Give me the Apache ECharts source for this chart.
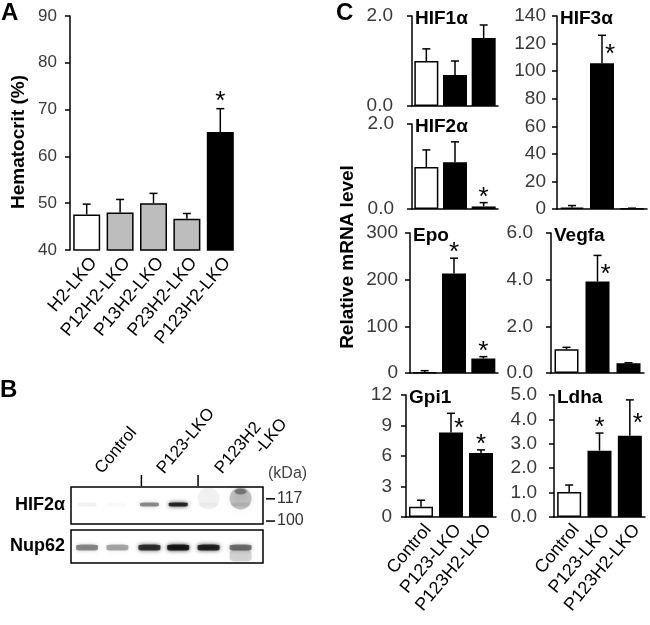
<!DOCTYPE html>
<html>
<head>
<meta charset="utf-8">
<script src="https://cdn.jsdelivr.net/npm/echarts@6/dist/echarts.min.js"></script>
<style>html,body{margin:0;padding:0;background:#fff;}#c{width:650px;height:625px;}</style>
</head>
<body>
<div id="c"></div>
<script>
// ---------- Panel A data ----------
const aCats = ['H2-LKO', 'P12H2-LKO', 'P13H2-LKO', 'P23H2-LKO', 'P123H2-LKO'];
const aVals = [47.6, 48.0, 50.0, 46.7, 65.2];
const aErrs = [2.2, 2.8, 2.1, 1.1, 5.0];
const aSig  = [0, 0, 0, 0, 1];
const aTicks = [40, 90, 10];

// ---------- Panel C data ----------
const cCats = ['Control', 'P123-LKO', 'P123H2-LKO'];
const hif1aVals = [1.00, 0.69, 1.51];
const hif1aErrs = [0.27, 0.31, 0.29];
const hif1aSig  = [0, 0, 0];
const hif2aVals = [0.99, 1.10, 0.06];
const hif2aErrs = [0.40, 0.48, 0.09];
const hif2aSig  = [0, 0, 1];
const hif3aVals = [1.0, 105.8, 0.4];
const hif3aErrs = [1.5, 20.2, 0.2];
const hif3aSig  = [0, 2, 0];
const epoVals = [1.5, 213, 31];
const epoErrs = [3.5, 33, 4];
const epoSig  = [0, 1, 1];
const vegfaVals = [1.02, 3.92, 0.42];
const vegfaErrs = [0.08, 1.12, 0.02];
const vegfaSig  = [0, 2, 0];
const gpi1Vals = [1.0, 8.3, 6.3];
const gpi1Errs = [0.65, 1.9, 0.3];
const gpi1Sig  = [0, 2, 1];
const ldhaVals = [1.02, 2.72, 3.33];
const ldhaErrs = [0.29, 0.72, 1.47];
const ldhaSig  = [0, 1, 2];

// ---------- Panel B (blot) data ----------
const blotLanes = [0.5, 1.45, 2.45, 3.35, 4.3, 5.3];
const hif2aBand  = [0.07, 0.03, 0.5, 0.95, 0.04, 0.10];
const hif2aSmear = [0, 0, 0, 0, 0.07, 0.28];
const hif2aCore  = [0, 0, 0, 0, 0, 0.45];
const nup62Band  = [0.5, 0.38, 0.88, 1.0, 0.95, 0.6];
const nup62Smear = [0, 0, 0, 0, 0, 0.2];
const blotGroups = ['Control', 'P123-LKO', 'P123H2\n-LKO'];
const blotGroupAt = [1.06, 3.0, 4.81];
const blotDividers = [2.2, 3.97];
const kdaMarks = ['117', '100'];
const kdaAt = [0.68, 0.08];

const FONT = 'Arial, "Liberation Sans", Helvetica, sans-serif';
const ROT = 50;

const panels = [
  {grid: {left: 70, top: 16, width: 167, height: 234}, cats: aCats, vals: aVals, errs: aErrs, sig: aSig,
   range: aTicks, dec: 0, fills: ['#ffffff', '#bdbdbd', '#bdbdbd', '#bdbdbd', '#000000'], barW: 27,
   labMargin: 13, tickFont: 17, showX: true, xLine: false, starGap: 13, name: 'Hematocrit (%)'},
  {grid: {left: 412, top: 16, width: 86, height: 90}, cats: cCats, vals: hif1aVals, errs: hif1aErrs, sig: hif1aSig,
   range: [0, 2, 2], dec: 1, title: 'HIF1\u03b1', labMargin: 19},
  {grid: {left: 412, top: 124, width: 86, height: 85}, cats: cCats, vals: hif2aVals, errs: hif2aErrs, sig: hif2aSig,
   range: [0, 2, 2], dec: 1, title: 'HIF2\u03b1', labMargin: 18},
  {grid: {left: 410, top: 233, width: 88, height: 140}, cats: cCats, vals: epoVals, errs: epoErrs, sig: epoSig,
   range: [0, 300, 100], dec: 0, title: 'Epo', labMargin: 12},
  {grid: {left: 406, top: 395, width: 90, height: 122}, cats: cCats, vals: gpi1Vals, errs: gpi1Errs, sig: gpi1Sig,
   range: [0, 12, 3], dec: 0, title: 'Gpi1', labMargin: 14, showX: true},
  {grid: {left: 557, top: 16, width: 90, height: 193}, cats: cCats, vals: hif3aVals, errs: hif3aErrs, sig: hif3aSig,
   range: [0, 140, 20], dec: 0, title: 'HIF3\u03b1', labMargin: 11},
  {grid: {left: 551, top: 233, width: 93, height: 140}, cats: cCats, vals: vegfaVals, errs: vegfaErrs, sig: vegfaSig,
   range: [0, 6, 2], dec: 1, title: 'Vegfa', labMargin: 18},
  {grid: {left: 554, top: 395, width: 91, height: 122}, cats: cCats, vals: ldhaVals, errs: ldhaErrs, sig: ldhaSig,
   range: [0, 5, 1], dec: 1, title: 'Ldha', labMargin: 17, showX: true}
];

function errRender(params, api) {
  const i = api.value(0), v = api.value(1), e = api.value(2);
  const b = api.coord([i, v]), t = api.coord([i, v + e]);
  const cap = 4;
  return {type: 'group', children: [
    {type: 'line', shape: {x1: b[0], y1: b[1], x2: t[0], y2: t[1]}, style: {stroke: '#000', lineWidth: 1.5}},
    {type: 'line', shape: {x1: t[0] - cap, y1: t[1], x2: t[0] + cap, y2: t[1]}, style: {stroke: '#000', lineWidth: 1.5}}
  ]};
}
function makeStarRender(gap) {
  return function (params, api) {
    const i = api.value(0), v = api.value(1), e = api.value(2), s = api.value(3);
    if (!s) return null;
    let x, y;
    if (s === 1) { const t = api.coord([i, v + e]); x = t[0]; y = t[1] - gap + 6; }
    else { const m = api.coord([i, v + e / 2]); x = m[0] + 8; y = m[1] + 6; }
    return {type: 'text', x: x, y: y, style: {text: '*', font: '26px ' + FONT, fill: '#000', align: 'center', verticalAlign: 'middle'}};
  };
}

const grids = [], xAxes = [], yAxes = [], series = [], graphics = [];
panels.forEach((p, k) => {
  grids.push(Object.assign({outerBoundsMode: 'none', containLabel: false}, p.grid));
  xAxes.push({
    gridIndex: k, type: 'category', data: p.cats,
    axisLine: {show: p.xLine !== false, onZero: false, lineStyle: {color: '#000', width: 1.5}},
    axisTick: {show: false},
    axisLabel: {show: !!p.showX, rotate: ROT, interval: 0, fontSize: 18, color: '#000', fontFamily: FONT,
      margin: 4, verticalAlign: 'top'},
    splitLine: {show: false}
  });
  yAxes.push({
    gridIndex: k, type: 'value', min: p.range[0], max: p.range[1], interval: p.range[2],
    axisLine: {show: true, lineStyle: {color: '#000', width: 1.5}},
    axisTick: {show: true, inside: false, length: 5, lineStyle: {color: '#000', width: 1.5}},
    axisLabel: {fontSize: p.tickFont || 19, color: '#3a3a3a', fontFamily: FONT, margin: p.labMargin,
      formatter: v => v.toFixed(p.dec)},
    splitLine: {show: false},
    name: p.name || '', nameLocation: 'middle', nameGap: 42,
    nameTextStyle: {fontSize: 19, fontWeight: 'bold', color: '#000', fontFamily: FONT, padding: [0, 18, 0, 0]}
  });
  series.push({
    type: 'bar', xAxisIndex: k, yAxisIndex: k, barWidth: p.barW || 24, silent: true,
    data: p.vals.map((v, i) => ({value: v, itemStyle: {color: (p.fills || ['#ffffff', '#000000', '#000000'])[i], borderColor: '#000', borderWidth: 1.5}}))
  });
  series.push({
    type: 'custom', xAxisIndex: k, yAxisIndex: k, renderItem: errRender, clip: false, silent: true, z: 5,
    data: p.vals.map((v, i) => [i, v, p.errs[i]])
  });
  series.push({
    type: 'custom', xAxisIndex: k, yAxisIndex: k, renderItem: makeStarRender(p.starGap || 11), clip: false, silent: true, z: 6,
    data: p.vals.map((v, i) => [i, v, p.errs[i], p.sig[i]])
  });
  if (p.title) {
    graphics.push({type: 'text', x: p.grid.left + 3, y: p.grid.top + 3,
      style: {text: p.title, font: 'bold 19px ' + FONT, fill: '#000', verticalAlign: 'middle'}});
  }
});

// ---------- Blot grids (index 8, 9) ----------
grids.push({left: 71, top: 487, width: 192, height: 37, show: true, borderColor: '#000', borderWidth: 1.5, backgroundColor: '#fff', outerBoundsMode: 'none'});
grids.push({left: 71, top: 530, width: 192, height: 33, show: true, borderColor: '#000', borderWidth: 1.5, backgroundColor: '#fff', outerBoundsMode: 'none'});
xAxes.push({gridIndex: 8, type: 'value', min: 0, max: 6, show: false});   // 8
xAxes.push({gridIndex: 9, type: 'value', min: 0, max: 6, show: false});   // 9
yAxes.push({gridIndex: 8, type: 'category', data: ['HIF2\u03b1'], axisLine: {show: false}, axisTick: {show: false},
  axisLabel: {fontSize: 18, fontWeight: 'bold', color: '#000', fontFamily: FONT, margin: 6}});   // 8
yAxes.push({gridIndex: 9, type: 'category', data: ['Nup62'], axisLine: {show: false}, axisTick: {show: false},
  axisLabel: {fontSize: 18, fontWeight: 'bold', color: '#000', fontFamily: FONT, margin: 6}});   // 9
yAxes.push({gridIndex: 8, type: 'value', min: 0, max: 1, show: false});   // 10 (helper for annotations)

function bandItems(intens, w, h, dy, blur) {
  return intens.map((a, i) => ({
    value: [blotLanes[i], 0], symbolSize: [w, h], symbolOffset: [0, dy],
    itemStyle: {color: 'rgba(0,0,0,' + a + ')', shadowColor: 'rgba(0,0,0,' + a + ')', shadowBlur: blur}
  }));
}
series.push({type: 'scatter', xAxisIndex: 8, yAxisIndex: 8, symbol: 'circle', silent: true,
  data: bandItems(hif2aSmear, 22, 22, -7, 12)});
series.push({type: 'scatter', xAxisIndex: 8, yAxisIndex: 8, symbol: 'circle', silent: true,
  data: bandItems(hif2aCore, 12, 6, -14, 10)});
series.push({type: 'scatter', xAxisIndex: 8, yAxisIndex: 8, symbol: 'roundRect', silent: true,
  data: bandItems(hif2aBand, 19, 4, -1, 4)});
series.push({type: 'scatter', xAxisIndex: 9, yAxisIndex: 9, symbol: 'roundRect', silent: true,
  data: bandItems(nup62Smear, 22, 12, 9, 8)});
series.push({type: 'scatter', xAxisIndex: 9, yAxisIndex: 9, symbol: 'roundRect', silent: true,
  data: bandItems(nup62Band, 22, 6, 1, 4)});

// group dividers above the blot
series.push({type: 'custom', xAxisIndex: 8, yAxisIndex: 10, clip: false, silent: true,
  data: blotDividers.map(d => [d, 1]),
  renderItem: (params, api) => {
    const p = api.coord([api.value(0), 1]);
    return {type: 'line', shape: {x1: p[0], y1: p[1] - 1, x2: p[0], y2: p[1] - 12}, style: {stroke: '#000', lineWidth: 1.5}};
  }});
// molecular weight markers
series.push({type: 'custom', xAxisIndex: 8, yAxisIndex: 10, clip: false, silent: true,
  data: kdaAt.map((a, i) => [6, a, i]),
  renderItem: (params, api) => {
    const p = api.coord([6, api.value(1)]);
    return {type: 'group', children: [
      {type: 'line', shape: {x1: p[0] + 3, y1: p[1], x2: p[0] + 12, y2: p[1]}, style: {stroke: '#000', lineWidth: 1.5}},
      {type: 'text', x: p[0] + 14, y: p[1], style: {text: kdaMarks[api.value(2)], font: '16px ' + FONT, fill: '#333', verticalAlign: 'middle'}}
    ]};
  }});

// ---------- Texts ----------
graphics.push({type: 'text', x: 1, y: 13, style: {text: 'A', font: 'bold 24px ' + FONT, fill: '#000', verticalAlign: 'middle'}});
graphics.push({type: 'text', x: 0, y: 390, style: {text: 'B', font: 'bold 24px ' + FONT, fill: '#000', verticalAlign: 'middle'}});
graphics.push({type: 'text', x: 336, y: 13, style: {text: 'C', font: 'bold 24px ' + FONT, fill: '#000', verticalAlign: 'middle'}});
graphics.push({type: 'text', x: 268, y: 474, style: {text: '(kDa)', font: '16px ' + FONT, fill: '#444', verticalAlign: 'middle'}});
graphics.push({type: 'text', x: 348, y: 257, rotation: Math.PI / 2,
  style: {text: 'Relative mRNA level', font: 'bold 19px ' + FONT, fill: '#000', align: 'center', verticalAlign: 'middle'}});

const chart = echarts.init(document.getElementById('c'), null, {renderer: 'canvas'});
chart.setOption({
  animation: false,
  backgroundColor: '#fff',
  textStyle: {fontFamily: FONT},
  grid: grids, xAxis: xAxes, yAxis: yAxes, series: series, graphic: graphics
});

// rotated lane-group labels above the blot, positioned through the blot's own axes
blotGroups.forEach((g, i) => {
  const p = chart.convertToPixel({xAxisIndex: 8, yAxisIndex: 10}, [blotGroupAt[i], 1]);
  g.split('\n').forEach((t, j) => {
    graphics.push({type: 'text', x: p[0] + j * 40, y: p[1] - 10 - j * 20, rotation: ROT * Math.PI / 180,
      style: {text: t, font: '17px ' + FONT, fill: '#000', align: 'left', verticalAlign: 'bottom'}});
  });
});
chart.setOption({graphic: graphics});
</script>
</body>
</html>
